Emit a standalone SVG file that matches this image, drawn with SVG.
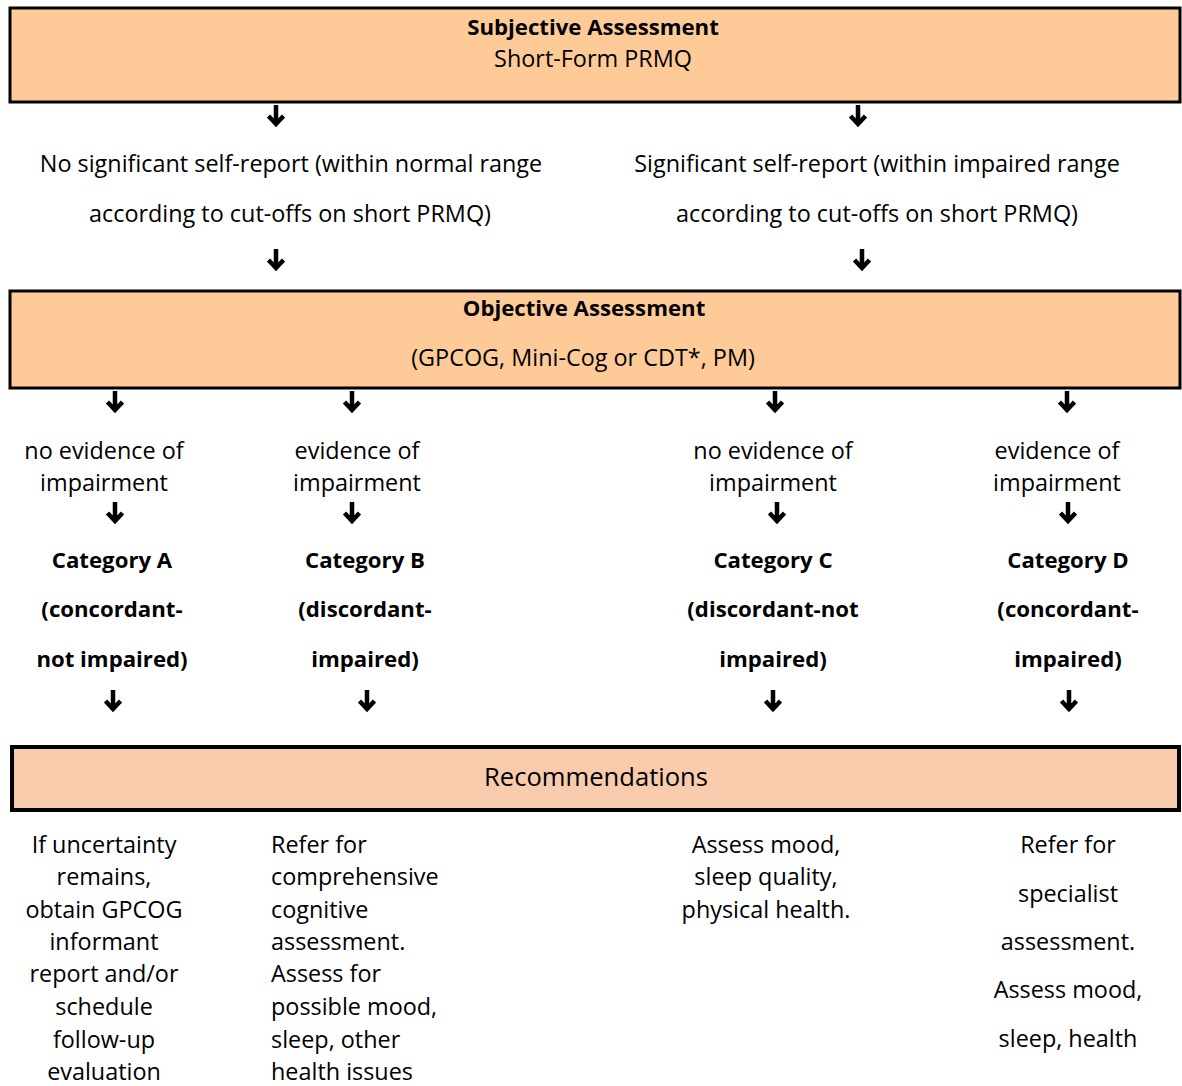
<svg xmlns="http://www.w3.org/2000/svg" xmlns:xlink="http://www.w3.org/1999/xlink" width="1182" height="1086" viewBox="0 0 1182 1086">
  <style>
    text { font-family: "Open Sans", "Liberation Sans", Arial, sans-serif; font-size: 23.4px; fill: #000; }
    .c { text-anchor: middle; }
    .b { font-weight: bold; font-size: 22.2px; }
    .box { fill: #fecb98; stroke: #000; stroke-width: 3; }
    .rec { fill: #f8cbad; stroke: #000; stroke-width: 4; }
    .arr { fill: none; stroke: #000; stroke-width: 4.5; stroke-linejoin: miter; }
  </style>
  <defs>
    <!-- short bold downward arrow used between every step -->
    <path id="down" class="arr" d="M0,0 V19 M-7.5,11 L0,19 L7.5,11"/>
  </defs>

  <g id="subjective">
    <rect class="box" x="10" y="8" width="1170" height="94"/>
    <text class="c b" x="593" y="35">Subjective Assessment</text>
    <text class="c" x="593" y="67">Short-Form PRMQ</text>
  </g>

  <g id="no-self-report">
    <text class="c" x="291" y="172">No significant self-report (within normal range</text>
    <text class="c" x="290" y="222">according to cut-offs on short PRMQ)</text>
  </g>

  <g id="self-report">
    <text class="c" x="877" y="172">Significant self-report (within impaired range</text>
    <text class="c" x="877" y="222">according to cut-offs on short PRMQ)</text>
  </g>

  <g id="objective">
    <rect class="box" x="10" y="291" width="1170" height="97"/>
    <text class="c b" x="584" y="316">Objective Assessment</text>
    <text class="c" x="583" y="366">(GPCOG, Mini-Cog or CDT*, PM)</text>
  </g>

  <g id="result-a">
    <text class="c" x="104" y="459">no evidence of</text>
    <text class="c" x="104" y="491">impairment</text>
  </g>
  <g id="result-b">
    <text class="c" x="357" y="459">evidence of</text>
    <text class="c" x="357" y="491">impairment</text>
  </g>
  <g id="result-c">
    <text class="c" x="773" y="459">no evidence of</text>
    <text class="c" x="773" y="491">impairment</text>
  </g>
  <g id="result-d">
    <text class="c" x="1057" y="459">evidence of</text>
    <text class="c" x="1057" y="491">impairment</text>
  </g>

  <g id="category-a">
    <text class="c b" x="112" y="568">Category A</text>
    <text class="c b" x="112" y="617">(concordant-</text>
    <text class="c b" x="112" y="667">not impaired)</text>
  </g>
  <g id="category-b">
    <text class="c b" x="365" y="568">Category B</text>
    <text class="c b" x="365" y="617">(discordant-</text>
    <text class="c b" x="365" y="667">impaired)</text>
  </g>
  <g id="category-c">
    <text class="c b" x="773" y="568">Category C</text>
    <text class="c b" x="773" y="617">(discordant-not</text>
    <text class="c b" x="773" y="667">impaired)</text>
  </g>
  <g id="category-d">
    <text class="c b" x="1068" y="568">Category D</text>
    <text class="c b" x="1068" y="617">(concordant-</text>
    <text class="c b" x="1068" y="667">impaired)</text>
  </g>

  <g id="recommendations">
    <rect class="rec" x="12" y="747" width="1167" height="63"/>
    <text class="c" x="596" y="786" style="font-size:25.6px">Recommendations</text>
  </g>

  <g id="rec-a">
    <text class="c" x="104" y="853">If uncertainty</text>
    <text class="c" x="104" y="885">remains,</text>
    <text class="c" x="104" y="918">obtain GPCOG</text>
    <text class="c" x="104" y="950">informant</text>
    <text class="c" x="104" y="982">report and/or</text>
    <text class="c" x="104" y="1015">schedule</text>
    <text class="c" x="104" y="1048">follow-up</text>
    <text class="c" x="104" y="1080">evaluation</text>
  </g>
  <g id="rec-b">
    <text x="271" y="853">Refer for</text>
    <text x="271" y="885">comprehensive</text>
    <text x="271" y="918">cognitive</text>
    <text x="271" y="950">assessment.</text>
    <text x="271" y="982">Assess for</text>
    <text x="271" y="1015">possible mood,</text>
    <text x="271" y="1048">sleep, other</text>
    <text x="271" y="1080">health issues</text>
  </g>
  <g id="rec-c">
    <text class="c" x="766" y="853">Assess mood,</text>
    <text class="c" x="766" y="885">sleep quality,</text>
    <text class="c" x="766" y="918">physical health.</text>
  </g>
  <g id="rec-d">
    <text class="c" x="1068" y="853">Refer for</text>
    <text class="c" x="1068" y="902">specialist</text>
    <text class="c" x="1068" y="950">assessment.</text>
    <text class="c" x="1068" y="998">Assess mood,</text>
    <text class="c" x="1068" y="1047">sleep, health</text>
  </g>

  <g id="connectors">
    <use xlink:href="#down" x="276" y="105"/>
    <use xlink:href="#down" x="858" y="105"/>
    <use xlink:href="#down" x="276" y="249"/>
    <use xlink:href="#down" x="862" y="249"/>
    <use xlink:href="#down" x="115" y="391"/>
    <use xlink:href="#down" x="352" y="391"/>
    <use xlink:href="#down" x="775" y="391"/>
    <use xlink:href="#down" x="1067" y="391"/>
    <use xlink:href="#down" x="115" y="502"/>
    <use xlink:href="#down" x="352" y="502"/>
    <use xlink:href="#down" x="777" y="502"/>
    <use xlink:href="#down" x="1068" y="502"/>
    <use xlink:href="#down" x="113" y="690"/>
    <use xlink:href="#down" x="367" y="690"/>
    <use xlink:href="#down" x="773" y="690"/>
    <use xlink:href="#down" x="1069" y="690"/>
  </g>
</svg>
